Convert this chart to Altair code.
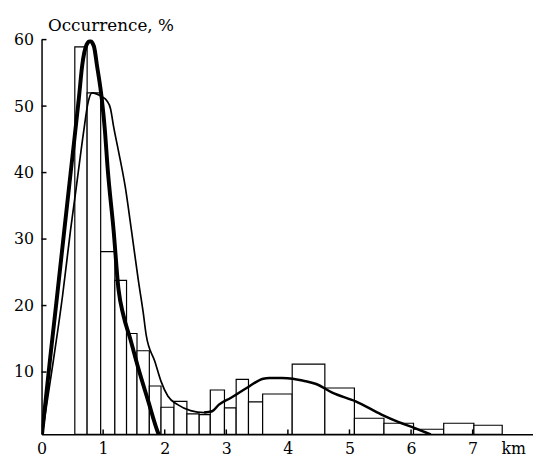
import altair as alt
import pandas as pd

# Histogram bins (km) and occurrence (%)
bin_left = [0.54, 0.74, 0.96, 1.19, 1.38, 1.55, 1.75, 1.94, 2.15, 2.36, 2.56, 2.74,
            2.97, 3.16, 3.36, 3.59, 4.07, 4.60, 5.08, 5.56, 6.04, 6.53, 7.02]
bin_right = bin_left[1:] + [7.48]
occurrence = [58.9, 52.0, 28.1, 23.8, 15.8, 13.2, 7.9, 4.7, 5.6, 3.7, 3.6, 7.3,
              4.6, 8.9, 5.5, 6.7, 11.2, 7.6, 3.05, 2.3, 1.4, 2.3, 2.0]

# Bold curve
thick_km = [0, 0.134, 0.252, 0.369, 0.487, 0.605, 0.66, 0.73, 0.79, 0.85, 0.90, 0.978,
            1.03, 1.07, 1.17, 1.25, 1.33, 1.44, 1.57, 1.73, 1.89, 1.93]
thick_pct = [0, 11.6, 21.4, 31.3, 41.2, 51.1, 56.1, 59.2, 59.8, 59.0, 56.1, 51.1,
             46.2, 41.0, 31.3, 22.4, 18.5, 15.0, 10.6, 5.7, 0.9, 0]

# Thin curve
thin_km = [0, 0.19, 0.34, 0.47, 0.56, 0.684, 0.75, 0.817, 0.90, 0.98, 1.06, 1.12, 1.17,
           1.25, 1.36, 1.46, 1.57, 1.65, 1.70, 1.84, 1.94, 2.05, 2.21, 2.42, 2.64, 2.77]
thin_pct = [0, 11.6, 21.4, 31.3, 37.5, 46.2, 50.3, 52.0, 51.8, 51.4, 50.8, 49.6, 46.9,
            43.2, 37.8, 31.3, 23.9, 19.0, 15.5, 11.6, 8.6, 6.4, 5.1, 4.2, 3.9, 4.1]

# Medium curve (second mode)
mid_km = [2.64, 2.77, 2.88, 3.07, 3.33, 3.60, 3.70, 3.90, 4.08, 4.25, 4.46, 4.72,
          5.10, 5.52, 5.79, 6.03, 6.32]
mid_pct = [3.9, 4.1, 5.1, 6.1, 7.6, 9.0, 9.1, 9.1, 9.0, 8.7, 8.2, 6.9,
           5.6, 3.6, 2.5, 1.67, 0.6]

x_ticks = [0, 1, 2, 3, 4, 5, 6, 7]
y_ticks = [10, 20, 30, 40, 50, 60]
km_label_pos = 7.66

W, H = 498, 400
FONT = "DejaVu Serif"
xscale = alt.Scale(domain=[0, 7.98], nice=False, zero=False)
yscale = alt.Scale(domain=[0.63, 60], nice=False, zero=False)

x_axis = alt.Axis(values=x_ticks + [km_label_pos],
                  labelExpr="datum.value > 7.5 ? 'km' : format(datum.value, 'd')",
                  ticks=False, grid=False, title=None,
                  labelFont=FONT, labelFontSize=16, labelColor="black",
                  labelPadding=6, labelFlush=False,
                  domainColor="black", domainWidth=1.5)
y_axis = alt.Axis(values=y_ticks, ticks=False, grid=False,
                  title="Occurrence, %", titleAngle=0, titleAlign="left",
                  titleX=6, titleY=-9, titleBaseline="alphabetic",
                  titleFont=FONT, titleFontSize=17, titleFontWeight="normal",
                  titleColor="black",
                  labelFont=FONT, labelFontSize=16, labelColor="black",
                  labelPadding=8, labelFlush=False,
                  domainColor="black", domainWidth=1.5)

bins_df = pd.DataFrame({"left": bin_left, "right": bin_right, "pct": occurrence})

bars = alt.Chart(bins_df).mark_bar(fill="white", stroke="black", strokeWidth=1.2).encode(
    x=alt.X("left:Q", scale=xscale, axis=x_axis),
    x2="right:Q",
    y=alt.Y("pct:Q", scale=yscale, axis=y_axis),
    y2=alt.value(H),
)

xt = alt.Chart(pd.DataFrame({"v": x_ticks[1:]})).mark_rule(color="black", strokeWidth=1.5).encode(
    x=alt.X("v:Q", scale=xscale, axis=x_axis),
    y=alt.value(H), y2=alt.value(H - 5),
)
yt = alt.Chart(pd.DataFrame({"v": y_ticks})).mark_rule(color="black", strokeWidth=1.5).encode(
    y=alt.Y("v:Q", scale=yscale, axis=y_axis),
    x=alt.value(0), x2=alt.value(5),
)


def curve(km, pct, width):
    df = pd.DataFrame({"km": km, "pct": pct})
    return alt.Chart(df).mark_line(color="black", strokeWidth=width,
                                   interpolate="monotone", clip=True).encode(
        x=alt.X("km:Q", scale=xscale, axis=x_axis),
        y=alt.Y("pct:Q", scale=yscale, axis=y_axis),
    )


chart = alt.layer(
    bars, xt, yt,
    curve(thin_km, thin_pct, 1.7),
    curve(mid_km, mid_pct, 2.5),
    curve(thick_km, thick_pct, 4),
).properties(
    width=W, height=H,
    padding={"left": 34, "top": 29, "right": 0, "bottom": 25},
    autosize=alt.AutoSizeParams(type="none"),
).configure_view(stroke=None)

chart.save("out.html", embed_options={"renderer": "svg", "actions": False})
